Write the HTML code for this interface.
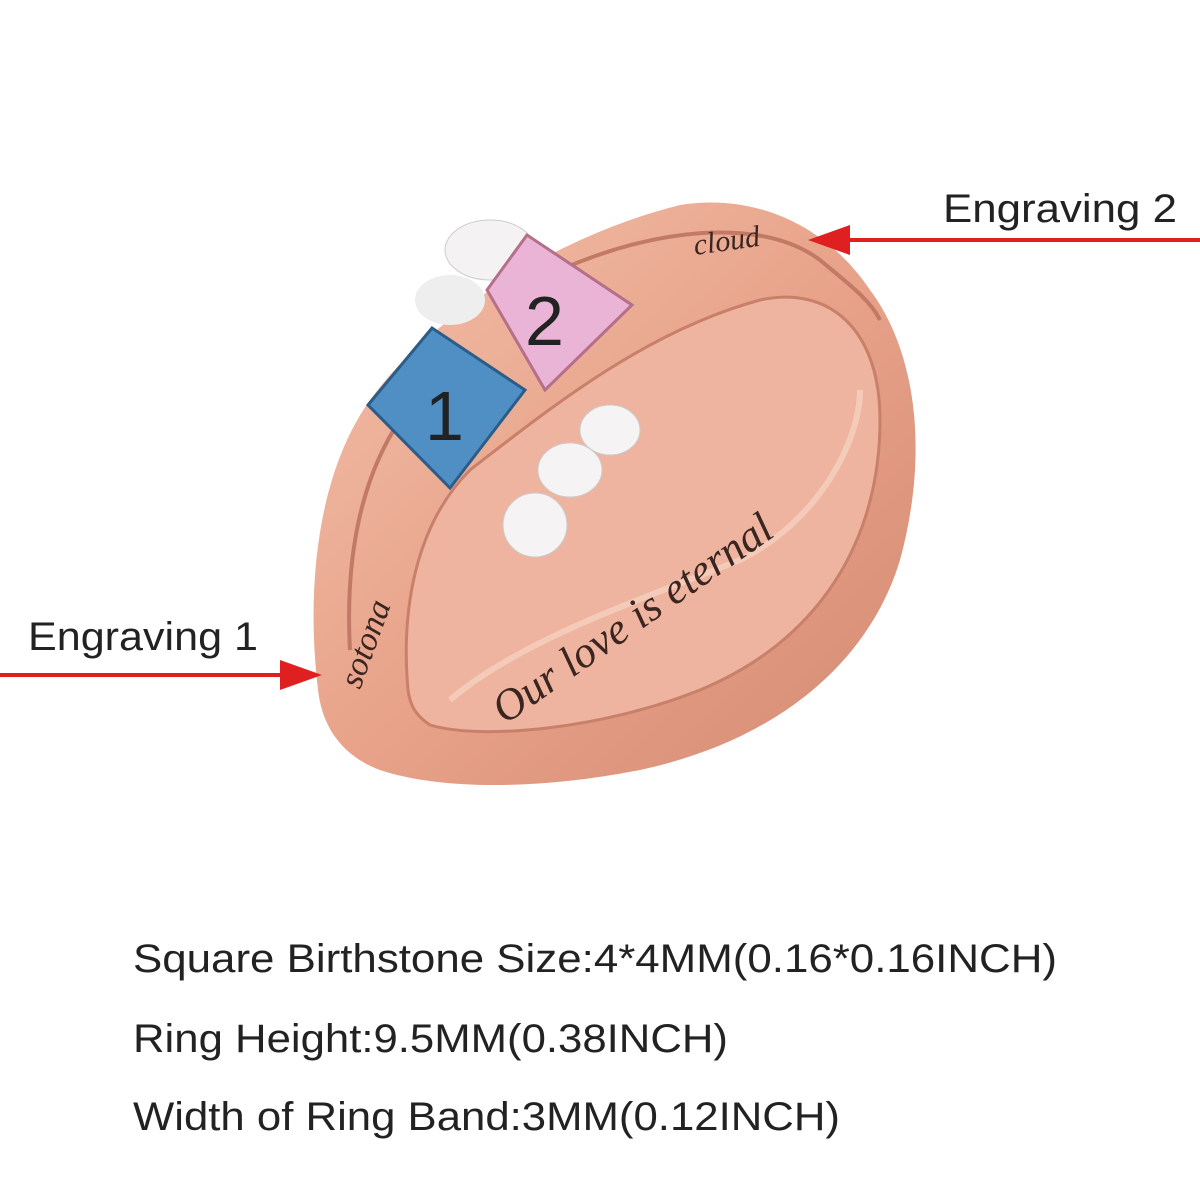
<!DOCTYPE html>
<html><head><meta charset="utf-8"><style>
html,body{margin:0;padding:0;background:#fff;width:1200px;height:1200px;overflow:hidden}
svg{position:absolute;left:0;top:0}
.t{font-family:"Liberation Sans",sans-serif;fill:#222}
</style></head><body>
<svg width="1200" height="1200" viewBox="0 0 1200 1200">
<defs>
<linearGradient id="g" x1="0" y1="0" x2="1" y2="1">
<stop offset="0" stop-color="#f3c0ab"/><stop offset="0.5" stop-color="#e8a38a"/><stop offset="1" stop-color="#d48a72"/>
</linearGradient>
</defs>
<path d="M318,690 C305,580 320,470 370,400 C420,330 540,240 680,205 C760,192 830,230 870,290 C915,350 930,450 900,560 C870,660 780,740 640,770 C540,790 440,790 380,770 C340,755 322,725 318,690 Z" fill="url(#g)"/>
<path d="M408,690 C400,600 420,520 470,470 C560,400 650,330 760,300 C830,285 880,330 880,420 C880,540 820,640 700,690 C600,730 480,740 430,725 C415,715 410,705 408,690 Z" fill="#eeb49f" stroke="#c9806b" stroke-width="3"/>
<path d="M450,700 C520,640 640,600 740,560 C820,520 860,440 860,390" fill="none" stroke="#f6d3c5" stroke-width="6" opacity="0.7"/>
<path d="M560,270 C650,230 760,215 820,260 C850,285 870,300 880,320" fill="none" stroke="#c27a66" stroke-width="4"/>
<path d="M350,650 C345,560 360,480 400,420" fill="none" stroke="#c27a66" stroke-width="4"/>
<ellipse cx="490" cy="250" rx="45" ry="30" fill="#f4f2f3" stroke="#ccc"/>
<ellipse cx="450" cy="300" rx="35" ry="25" fill="#eee"/>
<ellipse cx="610" cy="430" rx="30" ry="25" fill="#f5f3f4" stroke="#ccc"/>
<ellipse cx="570" cy="470" rx="32" ry="27" fill="#f5f3f4" stroke="#ccc"/>
<ellipse cx="535" cy="525" rx="32" ry="32" fill="#f5f3f4" stroke="#ccc"/>
<polygon points="487,290 527,235 632,305 545,390" fill="#e9b4d6" stroke="#b56f88" stroke-width="3"/>
<polygon points="368,405 432,328 525,390 450,488" fill="#4f8fc4" stroke="#2c5d88" stroke-width="3"/>
<text x="425" y="440" class="t" font-size="70" fill="#111">1</text>
<text x="525" y="345" class="t" font-size="70" fill="#111">2</text>
<text x="695" y="255" font-family="Liberation Serif,serif" font-style="italic" font-size="30" fill="#3a2520" transform="rotate(-8 695 255)">cloud</text>
<text x="360" y="690" font-family="Liberation Serif,serif" font-style="italic" font-size="34" fill="#3a2520" transform="rotate(-70 360 690)">sotona</text>
<text x="505" y="725" font-family="Liberation Serif,serif" font-style="italic" font-size="44" fill="#3a2520" transform="rotate(-35 505 725)">Our love is eternal</text>
<line x1="1200" y1="240" x2="840" y2="240" stroke="#e02020" stroke-width="4"/>
<polygon points="808,240 850,225 850,255" fill="#e02020"/>
<line x1="0" y1="675" x2="285" y2="675" stroke="#e02020" stroke-width="4"/>
<polygon points="322,675 280,660 280,690" fill="#e02020"/>
<text x="943" y="222" class="t" font-size="40" textLength="234" lengthAdjust="spacingAndGlyphs">Engraving 2</text>
<text x="28" y="650" class="t" font-size="40" textLength="230" lengthAdjust="spacingAndGlyphs">Engraving 1</text>
<text x="133" y="972" class="t" font-size="40" textLength="924" lengthAdjust="spacingAndGlyphs">Square Birthstone Size:4*4MM(0.16*0.16INCH)</text>
<text x="133" y="1052" class="t" font-size="40" textLength="595" lengthAdjust="spacingAndGlyphs">Ring Height:9.5MM(0.38INCH)</text>
<text x="133" y="1130" class="t" font-size="40" textLength="707" lengthAdjust="spacingAndGlyphs">Width of Ring Band:3MM(0.12INCH)</text>
</svg>
</body></html>
